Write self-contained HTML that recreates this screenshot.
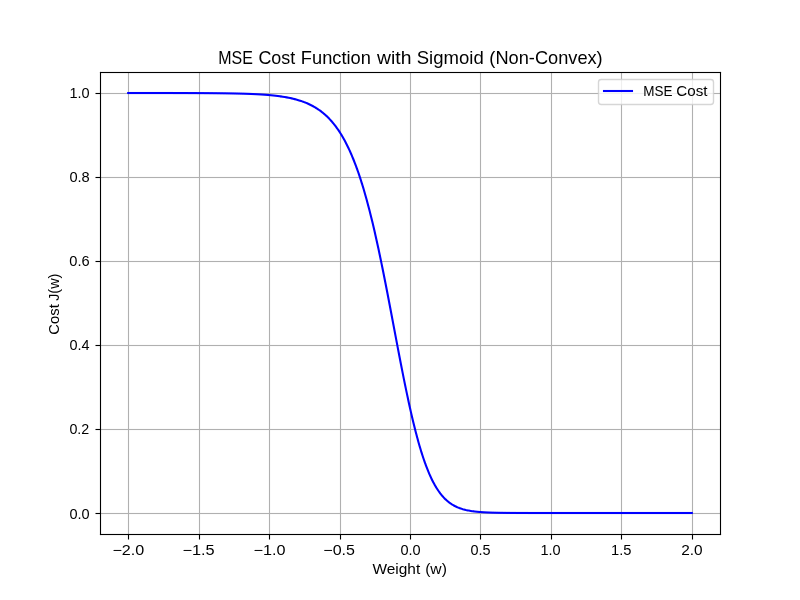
<!DOCTYPE html>
<html lang="en">
<head>
<meta charset="utf-8">
<title>MSE Cost Function with Sigmoid (Non-Convex)</title>
<style>
html,body{margin:0;padding:0;background:#ffffff;}
body{width:800px;height:600px;position:relative;overflow:hidden;font-family:"Liberation Sans",sans-serif;color:#000;}
svg{position:absolute;left:0;top:0;display:block;}
#labels{position:absolute;left:0;top:0;width:800px;height:600px;will-change:transform;}
.t{position:absolute;left:0;top:0;white-space:nowrap;line-height:1;transform-origin:0 0;font-family:"Liberation Sans",sans-serif;color:#000;}
.title{font-size:17.7px;}
.lbl{font-size:14.25px;}
</style>
</head>
<body>
<svg width="800" height="600" viewBox="0 0 800 600">
<rect x="0" y="0" width="800" height="600" fill="#ffffff"/>
<g fill="#b0b0b0">
<rect x="127.9445" y="72.5" width="1.111" height="462"/>
<rect x="198.9445" y="72.5" width="1.111" height="462"/>
<rect x="268.9445" y="72.5" width="1.111" height="462"/>
<rect x="339.9445" y="72.5" width="1.111" height="462"/>
<rect x="409.9445" y="72.5" width="1.111" height="462"/>
<rect x="479.9445" y="72.5" width="1.111" height="462"/>
<rect x="550.9445" y="72.5" width="1.111" height="462"/>
<rect x="620.9445" y="72.5" width="1.111" height="462"/>
<rect x="691.9445" y="72.5" width="1.111" height="462"/>
<rect x="100.5" y="92.9445" width="620" height="1.111"/>
<rect x="100.5" y="176.9445" width="620" height="1.111"/>
<rect x="100.5" y="260.9445" width="620" height="1.111"/>
<rect x="100.5" y="344.9445" width="620" height="1.111"/>
<rect x="100.5" y="428.9445" width="620" height="1.111"/>
<rect x="100.5" y="512.9445" width="620" height="1.111"/>
</g>
<g fill="#000000">
<rect x="127.9445" y="534.5" width="1.111" height="5"/>
<rect x="198.9445" y="534.5" width="1.111" height="5"/>
<rect x="268.9445" y="534.5" width="1.111" height="5"/>
<rect x="339.9445" y="534.5" width="1.111" height="5"/>
<rect x="409.9445" y="534.5" width="1.111" height="5"/>
<rect x="479.9445" y="534.5" width="1.111" height="5"/>
<rect x="550.9445" y="534.5" width="1.111" height="5"/>
<rect x="620.9445" y="534.5" width="1.111" height="5"/>
<rect x="691.9445" y="534.5" width="1.111" height="5"/>
<rect x="95.5" y="92.9445" width="5" height="1.111"/>
<rect x="95.5" y="176.9445" width="5" height="1.111"/>
<rect x="95.5" y="260.9445" width="5" height="1.111"/>
<rect x="95.5" y="344.9445" width="5" height="1.111"/>
<rect x="95.5" y="428.9445" width="5" height="1.111"/>
<rect x="95.5" y="512.9445" width="5" height="1.111"/>
</g>
<g fill="#0000ff">
<rect x="127.14" y="91.974" width="45.86" height="2.083"/>
<rect x="173" y="92.007" width="15" height="2.083"/>
<rect x="188" y="92.039" width="9" height="2.083"/>
<rect x="197" y="92.071" width="7" height="2.083"/>
<rect x="204" y="92.103" width="5" height="2.083"/>
<rect x="209" y="92.134" width="4" height="2.083"/>
<rect x="213" y="92.167" width="4" height="2.083"/>
<rect x="217" y="92.200" width="3" height="2.083"/>
<rect x="220" y="92.233" width="3" height="2.083"/>
<rect x="223" y="92.270" width="3" height="2.083"/>
<rect x="226" y="92.305" width="2" height="2.083"/>
<rect x="228" y="92.336" width="2" height="2.083"/>
<rect x="230" y="92.369" width="2" height="2.083"/>
<rect x="232" y="92.406" width="2" height="2.083"/>
<rect x="234" y="92.446" width="2" height="2.083"/>
<rect x="236" y="92.489" width="2" height="2.083"/>
<rect x="238" y="92.536" width="2" height="2.083"/>
<rect x="240" y="92.587" width="2" height="2.083"/>
<rect x="242" y="92.643" width="2" height="2.083"/>
<rect x="244" y="92.688" width="1" height="2.083"/>
<rect x="245" y="92.720" width="1" height="2.083"/>
<rect x="246" y="92.753" width="1" height="2.083"/>
<rect x="247" y="92.787" width="1" height="2.083"/>
<rect x="248" y="92.823" width="1" height="2.083"/>
<rect x="249" y="92.861" width="1" height="2.083"/>
<rect x="250" y="92.900" width="1" height="2.083"/>
<rect x="251" y="92.941" width="1" height="2.083"/>
<rect x="252" y="92.984" width="1" height="2.083"/>
<rect x="253" y="93.028" width="1" height="2.083"/>
<rect x="254" y="93.075" width="1" height="2.083"/>
<rect x="255" y="93.123" width="1" height="2.083"/>
<rect x="256" y="93.174" width="1" height="2.083"/>
<rect x="257" y="93.227" width="1" height="2.083"/>
<rect x="258" y="93.282" width="1" height="2.083"/>
<rect x="259" y="93.339" width="1" height="2.083"/>
<rect x="260" y="93.399" width="1" height="2.083"/>
<rect x="261" y="93.461" width="1" height="2.083"/>
<rect x="262" y="93.527" width="1" height="2.083"/>
<rect x="263" y="93.595" width="1" height="2.083"/>
<rect x="264" y="93.666" width="1" height="2.083"/>
<rect x="265" y="93.740" width="1" height="2.083"/>
<rect x="266" y="93.817" width="1" height="2.083"/>
<rect x="267" y="93.897" width="1" height="2.083"/>
<rect x="268" y="93.981" width="1" height="2.083"/>
<rect x="269" y="94.069" width="1" height="2.083"/>
<rect x="270" y="94.161" width="1" height="2.083"/>
<rect x="271" y="94.256" width="1" height="2.083"/>
<rect x="272" y="94.355" width="1" height="2.083"/>
<rect x="273" y="94.459" width="1" height="2.083"/>
<rect x="274" y="94.568" width="1" height="2.083"/>
<rect x="275" y="94.681" width="1" height="2.083"/>
<rect x="276" y="94.798" width="1" height="2.083"/>
<rect x="277" y="94.921" width="1" height="2.083"/>
<rect x="278" y="95.049" width="1" height="2.083"/>
<rect x="279" y="95.183" width="1" height="2.083"/>
<rect x="280" y="95.323" width="1" height="2.083"/>
<rect x="473" y="510.305" width="1" height="2.083"/>
<rect x="474" y="510.432" width="1" height="2.083"/>
<rect x="475" y="510.549" width="1" height="2.083"/>
<rect x="476" y="510.658" width="1" height="2.083"/>
<rect x="477" y="510.759" width="1" height="2.083"/>
<rect x="478" y="510.852" width="1" height="2.083"/>
<rect x="479" y="510.938" width="1" height="2.083"/>
<rect x="480" y="511.017" width="1" height="2.083"/>
<rect x="481" y="511.091" width="1" height="2.083"/>
<rect x="482" y="511.158" width="1" height="2.083"/>
<rect x="483" y="511.221" width="1" height="2.083"/>
<rect x="484" y="511.279" width="1" height="2.083"/>
<rect x="485" y="511.332" width="1" height="2.083"/>
<rect x="486" y="511.381" width="1" height="2.083"/>
<rect x="487" y="511.427" width="1" height="2.083"/>
<rect x="488" y="511.469" width="1" height="2.083"/>
<rect x="489" y="511.508" width="1" height="2.083"/>
<rect x="490" y="511.543" width="1" height="2.083"/>
<rect x="491" y="511.576" width="1" height="2.083"/>
<rect x="492" y="511.620" width="2" height="2.083"/>
<rect x="494" y="511.672" width="2" height="2.083"/>
<rect x="496" y="511.716" width="2" height="2.083"/>
<rect x="498" y="511.753" width="2" height="2.083"/>
<rect x="500" y="511.791" width="3" height="2.083"/>
<rect x="503" y="511.828" width="3" height="2.083"/>
<rect x="506" y="511.861" width="4" height="2.083"/>
<rect x="510" y="511.894" width="6" height="2.083"/>
<rect x="516" y="511.927" width="12" height="2.083"/>
<rect x="528" y="511.957" width="164.86" height="2.083"/>
</g>
<path d="M280.70 96.39 L282.70 96.69 L284.69 97.02 L286.69 97.37 L288.68 97.75 L290.18 98.06 L291.68 98.39 L293.17 98.75 L294.67 99.12 L296.17 99.52 L297.66 99.94 L299.16 100.39 L300.16 100.71 L301.16 101.04 L302.16 101.38 L303.15 101.74 L304.15 102.11 L305.15 102.50 L306.15 102.91 L307.15 103.33 L308.14 103.77 L309.14 104.23 L310.14 104.71 L311.14 105.20 L312.13 105.72 L313.13 106.26 L314.13 106.82 L315.13 107.41 L316.13 108.01 L317.12 108.65 L318.12 109.31 L319.12 109.99 L320.12 110.71 L321.12 111.45 L321.62 111.83 L322.11 112.22 L322.61 112.62 L323.11 113.03 L323.61 113.44 L324.11 113.86 L324.61 114.29 L325.11 114.73 L325.61 115.18 L326.11 115.64 L326.60 116.10 L327.10 116.58 L327.60 117.06 L328.10 117.56 L328.60 118.06 L329.10 118.57 L329.60 119.10 L330.10 119.63 L330.60 120.18 L331.10 120.73 L331.59 121.29 L332.09 121.87 L332.59 122.46 L333.09 123.06 L333.59 123.67 L334.09 124.29 L334.59 124.92 L335.09 125.56 L335.59 126.22 L336.08 126.89 L336.58 127.57 L337.08 128.27 L337.58 128.98 L338.08 129.70 L338.58 130.43 L339.08 131.18 L339.58 131.94 L340.08 132.72 L340.58 133.51 L341.07 134.31 L341.57 135.13 L342.07 135.97 L342.57 136.82 L343.07 137.68 L343.57 138.56 L344.07 139.46 L344.57 140.37 L345.07 141.30 L345.57 142.24 L346.06 143.20 L346.56 144.18 L347.06 145.17 L347.56 146.18 L348.06 147.21 L348.56 148.26 L349.06 149.32 L349.56 150.41 L350.06 151.51 L350.55 152.63 L351.05 153.76 L351.55 154.92 L352.05 156.10 L352.55 157.29 L353.05 158.51 L353.55 159.74 L354.05 160.99 L354.55 162.27 L355.05 163.56 L355.54 164.88 L356.04 166.21 L356.54 167.57 L357.04 168.95 L357.54 170.35 L358.04 171.77 L358.54 173.21 L359.04 174.67 L359.54 176.15 L360.04 177.66 L360.53 179.19 L361.03 180.74 L361.53 182.31 L362.03 183.90 L362.53 185.52 L363.03 187.16 L363.53 188.82 L364.03 190.50 L364.53 192.21 L365.02 193.94 L365.52 195.69 L366.02 197.47 L366.52 199.27 L367.52 202.93 L368.52 206.69 L369.52 210.53 L370.51 214.47 L371.51 218.49 L372.51 222.61 L373.51 226.81 L374.51 231.10 L375.50 235.47 L376.50 239.92 L377.50 244.46 L378.50 249.07 L379.49 253.75 L380.49 258.51 L381.49 263.34 L382.49 268.23 L383.99 275.68 L385.48 283.25 L387.48 293.50 L389.97 306.53 L397.46 346.07 L399.45 356.50 L400.95 364.23 L402.45 371.85 L403.94 379.35 L404.94 384.26 L405.94 389.11 L406.94 393.88 L407.94 398.57 L408.93 403.18 L409.93 407.69 L410.93 412.11 L411.93 416.44 L412.93 420.66 L413.42 422.73 L413.92 424.77 L414.42 426.79 L414.92 428.78 L415.42 430.74 L415.92 432.68 L416.42 434.58 L416.92 436.46 L417.42 438.31 L417.92 440.13 L418.41 441.92 L418.91 443.69 L419.41 445.42 L419.91 447.13 L420.41 448.80 L420.91 450.45 L421.41 452.07 L421.91 453.65 L422.41 455.21 L422.90 456.74 L423.40 458.24 L423.90 459.72 L424.40 461.16 L424.90 462.57 L425.40 463.96 L425.90 465.32 L426.40 466.65 L426.90 467.95 L427.40 469.22 L427.89 470.47 L428.39 471.69 L428.89 472.88 L429.39 474.04 L429.89 475.18 L430.39 476.29 L430.89 477.38 L431.39 478.44 L431.89 479.47 L432.38 480.48 L432.88 481.47 L433.38 482.43 L433.88 483.36 L434.38 484.28 L434.88 485.17 L435.38 486.03 L435.88 486.88 L436.38 487.70 L436.88 488.50 L437.37 489.28 L437.87 490.04 L438.37 490.78 L438.87 491.49 L439.37 492.19 L439.87 492.87 L440.37 493.53 L440.87 494.17 L441.37 494.79 L441.87 495.39 L442.36 495.98 L442.86 496.55 L443.36 497.10 L443.86 497.64 L444.36 498.16 L444.86 498.66 L445.36 499.15 L445.86 499.62 L446.36 500.08 L446.85 500.53 L447.35 500.96 L447.85 501.38 L448.35 501.78 L448.85 502.18 L449.35 502.56 L449.85 502.92 L450.35 503.28 L450.85 503.62 L451.35 503.96 L451.84 504.28 L452.34 504.59 L452.84 504.89 L453.34 505.19 L453.84 505.47 L454.34 505.74 L454.84 506.00 L455.34 506.26 L455.84 506.50 L456.34 506.74 L456.83 506.97 L457.33 507.19 L457.83 507.41 L458.33 507.61 L458.83 507.81 L459.33 508.01 L459.83 508.19 L460.83 508.54 L461.82 508.87 L462.82 509.18 L463.82 509.46 L464.82 509.72 L465.82 509.97 L466.81 510.19 L467.81 510.41 L468.81 510.60 L469.81 510.78 L470.81 510.95 L472.30 511.18 L473.30 511.32" fill="none" stroke="#0000ff" stroke-width="2.083" stroke-linejoin="round" stroke-linecap="butt"/>
<g fill="#000000">
<rect x="99.9445" y="71.9445" width="1.111" height="463.111"/>
<rect x="719.9445" y="71.9445" width="1.111" height="463.111"/>
<rect x="99.9445" y="71.9445" width="621.111" height="1.111"/>
<rect x="99.9445" y="533.9445" width="621.111" height="1.111"/>
</g>
<rect x="598.5" y="79.5" width="115" height="25" rx="2.78" ry="2.78" fill="#ffffff" fill-opacity="0.8" stroke="#cccccc" stroke-opacity="0.8" stroke-width="1.389"/>
<line x1="602.96" y1="91" x2="633.04" y2="91" stroke="#0000ff" stroke-width="2.083"/>
</svg>
<div id="labels">
<span class="t title" style="transform:translate(218.27px,50px) scaleX(0.9038)">MSE</span>
<span class="t title" style="transform:translate(258.38px,50px) scaleX(1.0129)">Cost</span>
<span class="t title" style="transform:translate(300.85px,50px) scaleX(1.0309)">Function</span>
<span class="t title" style="transform:translate(377.05px,50px) scaleX(1.0923)">with</span>
<span class="t title" style="transform:translate(416.73px,50px) scaleX(1.0479)">Sigmoid</span>
<span class="t title" style="transform:translate(489.35px,50px) scaleX(1.0294)">(Non-Convex)</span>
<span class="t lbl" style="transform:translate(372.52px,562px) scaleX(1.0819)">Weight</span>
<span class="t lbl" style="transform:translate(425.13px,562px) scaleX(1.0981)">(w)</span>
<span class="t lbl" style="transform:translate(47px,334.68px) rotate(-90deg) scaleX(1.0383)">Cost</span>
<span class="t lbl" style="transform:translate(47px,300.81px) rotate(-90deg) scaleX(1.0070)">J(w)</span>
<span class="t lbl" style="transform:translate(643.22px,84px) scaleX(0.9467)">MSE</span>
<span class="t lbl" style="transform:translate(676.36px,84px) scaleX(1.0641)">Cost</span>
<span class="t lbl" style="transform:translate(112.43px,543px) scaleX(1.1322)">−2.0</span>
<span class="t lbl" style="transform:translate(182.43px,543px) scaleX(1.1449)">−1.5</span>
<span class="t lbl" style="transform:translate(253.44px,543px) scaleX(1.1362)">−1.0</span>
<span class="t lbl" style="transform:translate(323.31px,543px) scaleX(1.1219)">−0.5</span>
<span class="t lbl" style="transform:translate(400.39px,543px) scaleX(1.0175)">0.0</span>
<span class="t lbl" style="transform:translate(470.38px,543px) scaleX(1.0117)">0.5</span>
<span class="t lbl" style="transform:translate(540.50px,543px) scaleX(1.0175)">1.0</span>
<span class="t lbl" style="transform:translate(610.99px,543px) scaleX(1.0315)">1.5</span>
<span class="t lbl" style="transform:translate(681.16px,543px) scaleX(1.0796)">2.0</span>
<span class="t lbl" style="transform:translate(69.39px,507px) scaleX(1.0175)">0.0</span>
<span class="t lbl" style="transform:translate(69.39px,422px) scaleX(1.0021)">0.2</span>
<span class="t lbl" style="transform:translate(69.40px,338px) scaleX(1.0149)">0.4</span>
<span class="t lbl" style="transform:translate(69.37px,254px) scaleX(1.0277)">0.6</span>
<span class="t lbl" style="transform:translate(69.39px,170px) scaleX(1.0269)">0.8</span>
<span class="t lbl" style="transform:translate(69.50px,86px) scaleX(1.0174)">1.0</span>
</div>
</body>
</html>
